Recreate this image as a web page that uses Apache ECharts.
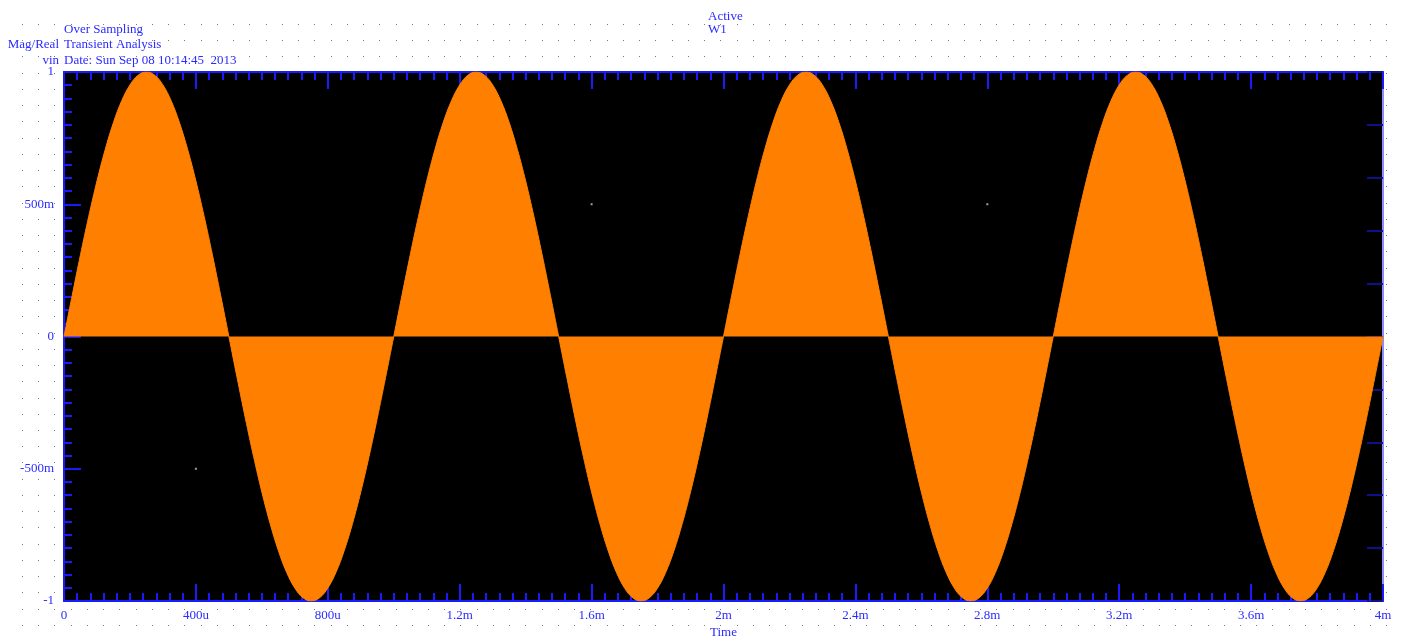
<!DOCTYPE html>
<html>
<head>
<meta charset="utf-8">
<title>Over Sampling - Transient Analysis</title>
<script src="https://cdn.jsdelivr.net/npm/echarts@6/dist/echarts.min.js"></script>
<style>
  html, body { margin: 0; padding: 0; background: #ffffff; }
  #wrap { position: relative; width: 1401px; height: 637px; }
  #dots, #chart { position: absolute; left: 0; top: 0; width: 1401px; height: 637px; }
</style>
</head>
<body>
<div id="wrap">
  <canvas id="dots" width="1401" height="637"></canvas>
  <div id="chart"></div>
</div>
<script>
// Transient waveform "vin": samples every 25 us from 0 to 4 ms
const sampleStepUs = 25;
const vinValues = [
  0, 0.156, 0.309, 0.454, 0.588, 0.707, 0.809, 0.891, 0.951, 0.988,
  1, 0.988, 0.951, 0.891, 0.809, 0.707, 0.588, 0.454, 0.309, 0.156,
  0, -0.156, -0.309, -0.454, -0.588, -0.707, -0.809, -0.891, -0.951, -0.988,
  -1, -0.988, -0.951, -0.891, -0.809, -0.707, -0.588, -0.454, -0.309, -0.156,
  0, 0.156, 0.309, 0.454, 0.588, 0.707, 0.809, 0.891, 0.951, 0.988,
  1, 0.988, 0.951, 0.891, 0.809, 0.707, 0.588, 0.454, 0.309, 0.156,
  0, -0.156, -0.309, -0.454, -0.588, -0.707, -0.809, -0.891, -0.951, -0.988,
  -1, -0.988, -0.951, -0.891, -0.809, -0.707, -0.588, -0.454, -0.309, -0.156,
  0, 0.156, 0.309, 0.454, 0.588, 0.707, 0.809, 0.891, 0.951, 0.988,
  1, 0.988, 0.951, 0.891, 0.809, 0.707, 0.588, 0.454, 0.309, 0.156,
  0, -0.156, -0.309, -0.454, -0.588, -0.707, -0.809, -0.891, -0.951, -0.988,
  -1, -0.988, -0.951, -0.891, -0.809, -0.707, -0.588, -0.454, -0.309, -0.156,
  0, 0.156, 0.309, 0.454, 0.588, 0.707, 0.809, 0.891, 0.951, 0.988,
  1, 0.988, 0.951, 0.891, 0.809, 0.707, 0.588, 0.454, 0.309, 0.156,
  0, -0.156, -0.309, -0.454, -0.588, -0.707, -0.809, -0.891, -0.951, -0.988,
  -1, -0.988, -0.951, -0.891, -0.809, -0.707, -0.588, -0.454, -0.309, -0.156,
  0
];

// Axis tick labels
const xTickLabels = ['0', '400u', '800u', '1.2m', '1.6m', '2m', '2.4m', '2.8m', '3.2m', '3.6m', '4m'];
const yTickLabels = ['-1', '-500m', '0', '500m', '1'];

// Plot grid markers (time in us, level)
const gridMarkTimes = [400, 1600, 2800];
const gridMarkLevels = [0.5, -0.5];

// Header texts
const headerLines = ['Over Sampling', 'Transient Analysis', 'Date: Sun Sep 08 10:14:45  2013'];
const yAxisTitles = ['Mag/Real', 'vin'];
const statusLines = ['Active', 'W1'];
const xAxisTitle = 'Time';

// Dotted sheet behind the plot
(function drawSheetDots() {
  const c = document.getElementById('dots');
  const ctx = c.getContext('2d');
  ctx.fillStyle = '#7a7a7a';
  const step = 16.24;
  for (let y = 24; y < 637; y += step) {
    for (let x = 22; x < 1401; x += step) {
      ctx.fillRect(Math.round(x), Math.round(y), 1, 1);
    }
  }
})();

const BLUE = '#1a1aff';
const TEXT_BLUE = '#2b2bff';
const ORANGE = '#ff8000';
const FONT = '"Liberation Serif", "Times New Roman", serif';

const vinData = vinValues.map((v, i) => [i * sampleStepUs, v]);
const markData = [];
gridMarkTimes.forEach(t => gridMarkLevels.forEach(l => markData.push([t, l])));

const chart = echarts.init(document.getElementById('chart'), null, { renderer: 'canvas' });

const textStyleBase = { fill: TEXT_BLUE, font: '13px ' + FONT };

const graphics = [];
headerLines.forEach((s, i) => {
  graphics.push({ type: 'text', left: 64, top: 23 + i * 15.5, style: Object.assign({ text: s }, textStyleBase) });
});
yAxisTitles.forEach((s, i) => {
  graphics.push({ type: 'text', right: 1401 - 59, top: 38.5 + i * 15.5, style: Object.assign({ text: s, textAlign: 'right' }, textStyleBase) });
});
statusLines.forEach((s, i) => {
  graphics.push({ type: 'text', left: 708, top: 10 + i * 13, style: Object.assign({ text: s }, textStyleBase) });
});
graphics.push({ type: 'text', left: 710, top: 626, style: Object.assign({ text: xAxisTitle }, textStyleBase) });

const tickStyle = { color: BLUE, width: 2 };

chart.setOption({
  animation: false,
  backgroundColor: 'transparent',
  grid: {
    left: 64, right: 18, top: 72, bottom: 36,
    show: true, backgroundColor: '#000000', borderWidth: 0
  },
  graphic: graphics,
  xAxis: [
    {
      type: 'value', position: 'bottom', min: 0, max: 4000, interval: 400,
      axisLine: { show: true, onZero: false, lineStyle: { color: BLUE, width: 2 } },
      axisTick: { show: true, inside: true, length: 17, lineStyle: tickStyle },
      minorTick: { show: true, splitNumber: 10, length: 8, lineStyle: tickStyle },
      axisLabel: {
        show: true, margin: 8, color: TEXT_BLUE, fontFamily: FONT, fontSize: 13,
        showMinLabel: true, showMaxLabel: true,
        formatter: v => xTickLabels[Math.round(v / 400)]
      },
      splitLine: { show: false }
    },
    {
      type: 'value', position: 'top', min: 0, max: 4000, interval: 400,
      axisLine: { show: true, onZero: false, lineStyle: { color: BLUE, width: 2 } },
      axisTick: { show: true, inside: true, length: 17, lineStyle: tickStyle },
      minorTick: { show: true, splitNumber: 10, length: 8, lineStyle: tickStyle },
      axisLabel: { show: false },
      splitLine: { show: false }
    }
  ],
  yAxis: [
    {
      type: 'value', position: 'left', min: -1, max: 1, interval: 0.5,
      axisLine: { show: true, onZero: false, lineStyle: { color: BLUE, width: 2 } },
      axisTick: { show: true, inside: true, length: 17, lineStyle: tickStyle },
      minorTick: { show: true, splitNumber: 10, length: 8, lineStyle: tickStyle },
      axisLabel: {
        show: true, margin: 10, color: TEXT_BLUE, fontFamily: FONT, fontSize: 13,
        showMinLabel: true, showMaxLabel: true,
        formatter: v => yTickLabels[Math.round((v + 1) / 0.5)]
      },
      splitLine: { show: false }
    },
    {
      type: 'value', position: 'right', min: -1, max: 1, interval: 0.2,
      axisLine: { show: true, onZero: false, lineStyle: { color: '#8c8cff', width: 2 } },
      axisTick: { show: true, inside: true, length: 16, lineStyle: { color: '#10108a', width: 2 } },
      axisLabel: { show: false },
      splitLine: { show: false }
    }
  ],
  series: [
    {
      name: 'grid marks', type: 'scatter', xAxisIndex: 0, yAxisIndex: 0,
      data: markData, symbol: 'rect', symbolSize: 2,
      itemStyle: { color: '#c8c8c8' }, silent: true, z: 1
    },
    {
      name: 'vin', type: 'line', xAxisIndex: 0, yAxisIndex: 0,
      data: vinData, showSymbol: false, symbol: 'none', smooth: 0.4,
      lineStyle: { color: ORANGE, width: 1 },
      areaStyle: { color: ORANGE, opacity: 1, origin: 0 },
      z: 2
    }
  ]
});
</script>
</body>
</html>
